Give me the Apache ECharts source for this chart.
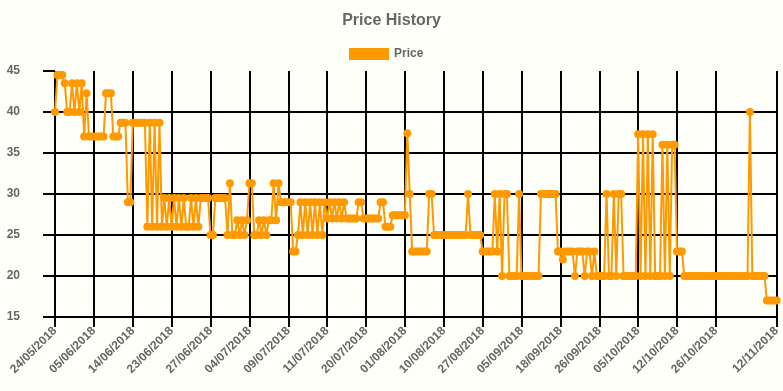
<!DOCTYPE html>
<html>
<head>
<meta charset="utf-8">
<script src="https://cdn.jsdelivr.net/npm/echarts@6/dist/echarts.min.js"></script>
<style>
html,body{margin:0;padding:0;background:#fffffa;}
#chart{width:783px;height:391px;}
</style>
</head>
<body>
<div id="chart"></div>
<script>
// Date of each observation, grouped: [date label, number of observations until next labelled date]
const dateRuns = [
  ["24/05/2018", 16], ["05/06/2018", 16], ["14/06/2018", 16], ["23/06/2018", 16],
  ["27/06/2018", 16], ["04/07/2018", 16], ["09/07/2018", 16], ["11/07/2018", 16],
  ["20/07/2018", 16], ["01/08/2018", 16], ["10/08/2018", 16], ["27/08/2018", 16],
  ["05/09/2018", 16], ["18/09/2018", 16], ["26/09/2018", 16], ["05/10/2018", 16],
  ["12/10/2018", 16], ["26/10/2018", 25], ["12/11/2018", 1]
];

const priceValues = [
  40, 44.5, 44.5, 44.5, 43.5, 40, 40, 43.5, 40, 43.5, 40, 43.5, 37, 42.3, 37, 37,
  37, 37, 37, 37, 37, 42.3, 42.3, 42.3, 37, 37, 37, 38.7, 38.7, 38.7, 29, 29,
  38.7, 38.7, 38.7, 38.7, 38.7, 38.7, 26, 38.7, 26, 38.7, 26, 38.7, 26, 29.5, 26, 29.5,
  26, 29.5, 26, 29.5, 26, 29.5, 26, 26, 29.5, 26, 29.5, 26, 29.5, 29.5, 29.5, 29.5,
  25, 25, 29.5, 29.5, 29.5, 29.5, 29.5, 25, 31.3, 25, 25, 26.8, 25, 26.8, 25, 26.8,
  31.3, 31.3, 25, 25, 26.8, 25, 26.8, 25, 26.8, 26.8, 31.3, 26.8, 31.3, 29, 29, 29,
  29, 29, 23, 23, 25, 29, 25, 29, 25, 29, 25, 29, 25, 29, 25, 29,
  27, 29, 27, 29, 27, 29, 27, 29, 27, 27, 27, 27, 27, 29, 29, 27,
  27, 27, 27, 27, 27, 27, 29, 29, 26, 26, 26, 27.4, 27.4, 27.4, 27.4, 27.4,
  27.4, 37.4, 30, 23, 23, 23, 23, 23, 23, 23, 30, 30, 25, 25, 25, 25,
  25, 25, 25, 25, 25, 25, 25, 25, 25, 25, 30, 25, 25, 25, 25, 25,
  23, 23, 23, 23, 23, 30, 23, 30, 20, 30, 30, 20, 20, 20, 20, 30,
  20, 20, 20, 20, 20, 20, 20, 20, 30, 30, 30, 30, 30, 30, 30, 23,
  23, 22, 23, 23, 23, 23, 20, 23, 23, 23, 20, 23, 23, 20, 23, 20,
  20, 20, 20, 30, 20, 20, 30, 20, 30, 30, 20, 20, 20, 20, 20, 20,
  37.3, 20, 37.3, 20, 37.3, 20, 37.3, 20, 20, 20, 36, 20, 36, 20, 36, 36,
  23, 23, 23, 20, 20, 20, 20, 20, 20, 20, 20, 20, 20, 20, 20, 20,
  20, 20, 20, 20, 20, 20, 20, 20, 20, 20, 20, 20, 20, 20, 40, 20,
  20, 20, 20, 20, 20, 17, 17, 17, 17, 17
];

const yTicks = [15, 20, 25, 30, 35, 40, 45];

// build categories and the set of labelled indices
const categories = [];
const labelled = new Set();
dateRuns.forEach(([d, n]) => {
  labelled.add(categories.length);
  for (let j = 0; j < n; j++) categories.push(d);
});
const showAt = (idx) => labelled.has(idx);

const FONT = "'Liberation Sans', Arial, Helvetica, sans-serif";
const chart = echarts.init(document.getElementById('chart'), null, {renderer: 'canvas'});
chart.setOption({
  backgroundColor: '#fffffa',
  animation: false,
  title: {
    text: 'Price History',
    left: 'center',
    top: 8,
    textStyle: {fontFamily: FONT, fontSize: 16, fontWeight: 'bold', color: '#666'}
  },
  legend: {
    top: 48,
    left: 349,
    padding: 0,
    icon: 'rect',
    itemWidth: 40,
    itemHeight: 12,
    itemGap: 6,
    textStyle: {fontFamily: FONT, fontSize: 12, fontWeight: 'bold', color: '#666'},
    data: ['Price']
  },
  grid: {left: 55, right: 6, top: 71, bottom: 74, containLabel: false},
  xAxis: {
    type: 'category',
    data: categories,
    boundaryGap: false,
    axisLine: {show: false},
    axisTick: {show: true, interval: showAt, length: 10, lineStyle: {color: '#000', width: 2}},
    splitLine: {show: true, interval: showAt, lineStyle: {color: '#000', width: 2}},
    axisLabel: {
      interval: showAt,
      rotate: 45,
      margin: 12,
      fontFamily: FONT, fontSize: 12, fontWeight: 'bold', color: '#666'
    }
  },
  yAxis: {
    type: 'value',
    min: yTicks[0],
    max: yTicks[yTicks.length - 1],
    interval: 5,
    axisLine: {show: false},
    axisTick: {show: true, length: 12, lineStyle: {color: '#000', width: 2}},
    splitLine: {show: true, lineStyle: {color: ['#000', '#000', '#000', '#000', '#000', '#000', 'rgba(0,0,0,0)'], width: 2}},
    axisLabel: {margin: 35, fontFamily: FONT, fontSize: 12, fontWeight: 'bold', color: '#666'}
  },
  series: [{
    name: 'Price',
    type: 'line',
    data: priceValues,
    showAllSymbol: true,
    symbol: 'circle',
    symbolSize: 8,
    color: '#ff9900',
    itemStyle: {color: '#ff9900'},
    lineStyle: {color: '#ff9900', width: 2},
    z: 5
  }]
});
</script>
</body>
</html>
